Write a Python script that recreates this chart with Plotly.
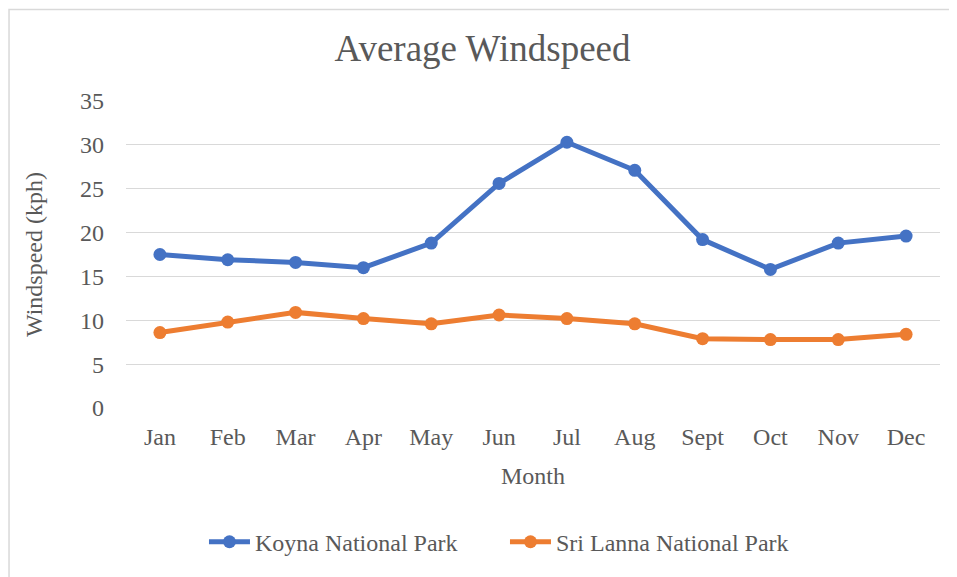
import plotly.graph_objects as go

months = ["Jan", "Feb", "Mar", "Apr", "May", "Jun", "Jul", "Aug", "Sept", "Oct", "Nov", "Dec"]
koyna = [17.5, 16.9, 16.6, 16.0, 18.8, 25.6, 30.3, 27.1, 19.2, 15.8, 18.8, 19.6]
sri_lanna = [8.6, 9.8, 10.9, 10.2, 9.6, 10.6, 10.2, 9.6, 7.9, 7.8, 7.8, 8.4]

FONT = "Liberation Serif"
TXT = "#595959"

W, H = 949, 569  # page body has an 8px margin

fig = go.Figure()
fig.add_trace(go.Scatter(x=months, y=koyna, name="Koyna National Park", mode="lines+markers",
                         line=dict(color="#4472C4", width=5), marker=dict(size=13, color="#4472C4")))
fig.add_trace(go.Scatter(x=months, y=sri_lanna, name="Sri Lanna National Park", mode="lines+markers",
                         line=dict(color="#ED7D31", width=5), marker=dict(size=13, color="#ED7D31")))

fig.update_layout(
    width=W, height=H,
    margin=dict(l=118, r=17, t=93, b=167),
    paper_bgcolor="white", plot_bgcolor="white",
    font=dict(family=FONT, color=TXT, size=24),
    title=dict(text="Average Windspeed", x=0.5, xanchor="center", y=1 - 40 / H, yanchor="middle",
               font=dict(size=37, color=TXT, family=FONT)),
    showlegend=True,
    legend=dict(orientation="h", x=0.0786 + 14 / 814, xanchor="left", y=-0.437, yanchor="middle",
                font=dict(size=24, color=TXT, family=FONT), traceorder="normal",
                itemwidth=41, entrywidth=245, entrywidthmode="pixels"),
    xaxis=dict(range=[-0.5, 11.5], showgrid=False, showline=False, zeroline=False, ticks="",
               ticklabelstandoff=12,
               tickfont=dict(size=24, color=TXT, family=FONT),
               title=dict(text="Month", font=dict(size=24, color=TXT, family=FONT), standoff=18)),
    yaxis=dict(range=[0, 35], dtick=5, showgrid=True, gridcolor="#d9d9d9", gridwidth=1.3,
               zeroline=False, showline=False, ticks="", ticklabelstandoff=21,
               tickfont=dict(size=24, color=TXT, family=FONT),
               title=dict(text="Windspeed (kph)", font=dict(size=24, color=TXT, family=FONT), standoff=30)),
    shapes=[dict(type="rect", xref="paper", yref="paper", x0=-0.1437, x1=1.03, y0=-0.6, y1=1.298,
                 line=dict(color="#d9d9d9", width=1.5), fillcolor="rgba(0,0,0,0)", layer="below")],
)

fig.write_html("out.html")
